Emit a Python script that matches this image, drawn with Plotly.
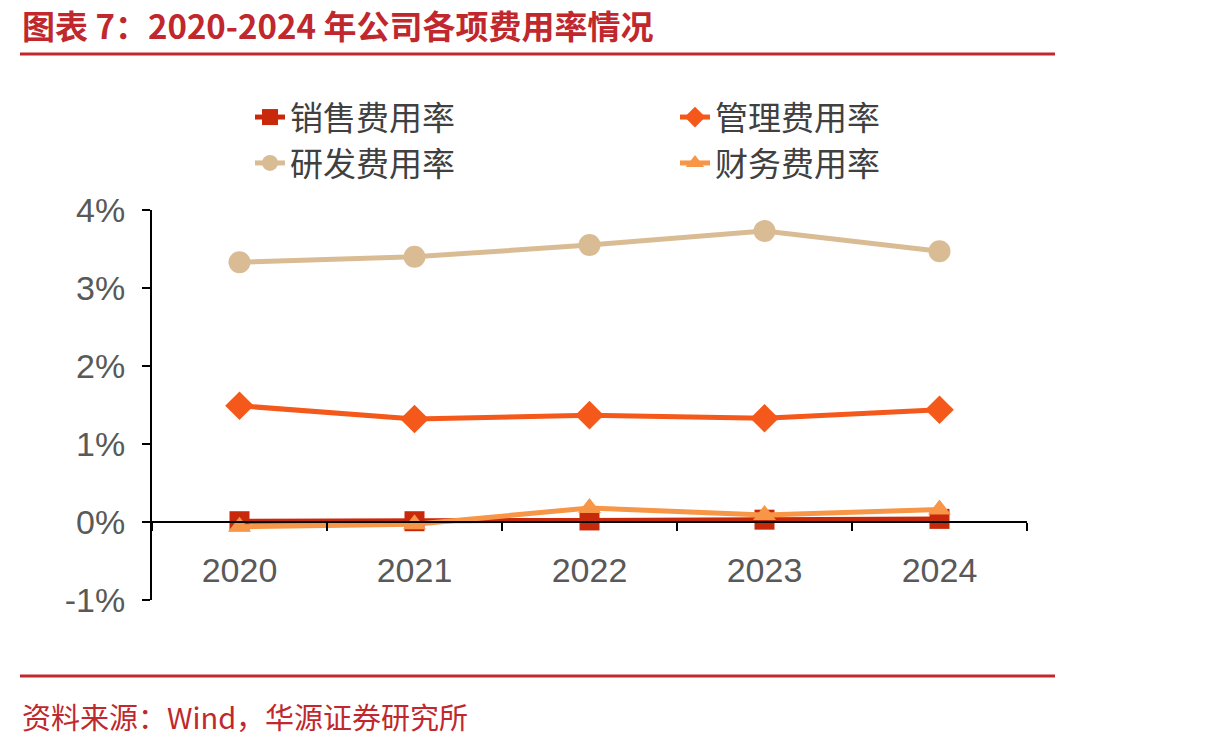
import plotly.graph_objects as go

years = ["2020", "2021", "2022", "2023", "2024"]
sales = [0.01, 0.01, 0.02, 0.03, 0.04]
admin = [1.49, 1.32, 1.37, 1.33, 1.44]
rnd = [3.33, 3.40, 3.55, 3.73, 3.47]
fin = [-0.06, -0.03, 0.18, 0.09, 0.16]
yticks = [-1, 0, 1, 2, 3, 4]
ytext = ["-1%", "0%", "1%", "2%", "3%", "4%"]

RED = "#C0282D"
series = [
    ("销售费用率", sales, "#C8290A", "square", 20),
    ("管理费用率", admin, "#F4581A", "diamond", 22),
    ("研发费用率", rnd, "#D9BC94", "circle", 22),
    ("财务费用率", fin, "#F79646", "triangle-up", 20),
]

fig = go.Figure()
for name, vals, col, sym, sz in series:
    fig.add_trace(go.Scatter(
        x=years, y=vals, name=name, mode="lines+markers",
        line=dict(color=col, width=5),
        marker=dict(symbol=sym, size=sz, color=col),
    ))

fig.update_layout(
    width=1210, height=748,
    margin=dict(l=152, r=183, t=210, b=148),
    paper_bgcolor="white", plot_bgcolor="white",
    font=dict(family="Liberation Sans, Arial", color="#595959"),
    showlegend=True,
    legend=dict(
        orientation="h", x=(250 - 152) / 875, xanchor="left", y=1.31, yanchor="top",
        entrywidth=380, entrywidthmode="pixels",
        font=dict(family="Noto Sans CJK SC", size=33, color="#404040"),
        bgcolor="rgba(0,0,0,0)", tracegroupgap=0,
    ),
    xaxis=dict(
        type="category", range=[-0.5, 4.5],
        anchor="free", position=0.2,
        showline=True, linecolor="black", linewidth=2,
        ticks="outside", tickson="boundaries", ticklen=8, tickcolor="black", tickwidth=2,
        tickfont=dict(size=34, color="#595959"), ticklabelstandoff=18,
        showgrid=False, zeroline=False,
    ),
    yaxis=dict(
        range=[-1, 4], tickvals=yticks, ticktext=ytext,
        showline=True, linecolor="black", linewidth=2,
        ticks="outside", ticklen=8, tickcolor="black", tickwidth=2,
        tickfont=dict(size=34, color="#595959"), ticklabelstandoff=10,
        showgrid=False, zeroline=False,
    ),
)

fig.add_annotation(
    text="<b>图表 7：2020-2024 年公司各项费用率情况</b>",
    xref="paper", yref="paper", x=(20 - 152) / 875, y=(600 - 25) / 390,
    xanchor="left", yanchor="middle", showarrow=False,
    font=dict(family="Noto Sans CJK SC", size=33, color=RED),
)
fig.add_annotation(
    text="资料来源：Wind，华源证券研究所",
    xref="paper", yref="paper", x=(20 - 152) / 875, y=(600 - 716) / 390,
    xanchor="left", yanchor="middle", showarrow=False,
    font=dict(family="Noto Sans CJK SC", size=29, color=RED),
)
for yp in [54, 676]:
    fig.add_shape(
        type="line", xref="paper", yref="paper",
        x0=(20 - 152) / 875, x1=(1055 - 152) / 875,
        y0=(600 - yp) / 390, y1=(600 - yp) / 390,
        line=dict(color=RED, width=3),
    )

fig.write_html("out.html")
